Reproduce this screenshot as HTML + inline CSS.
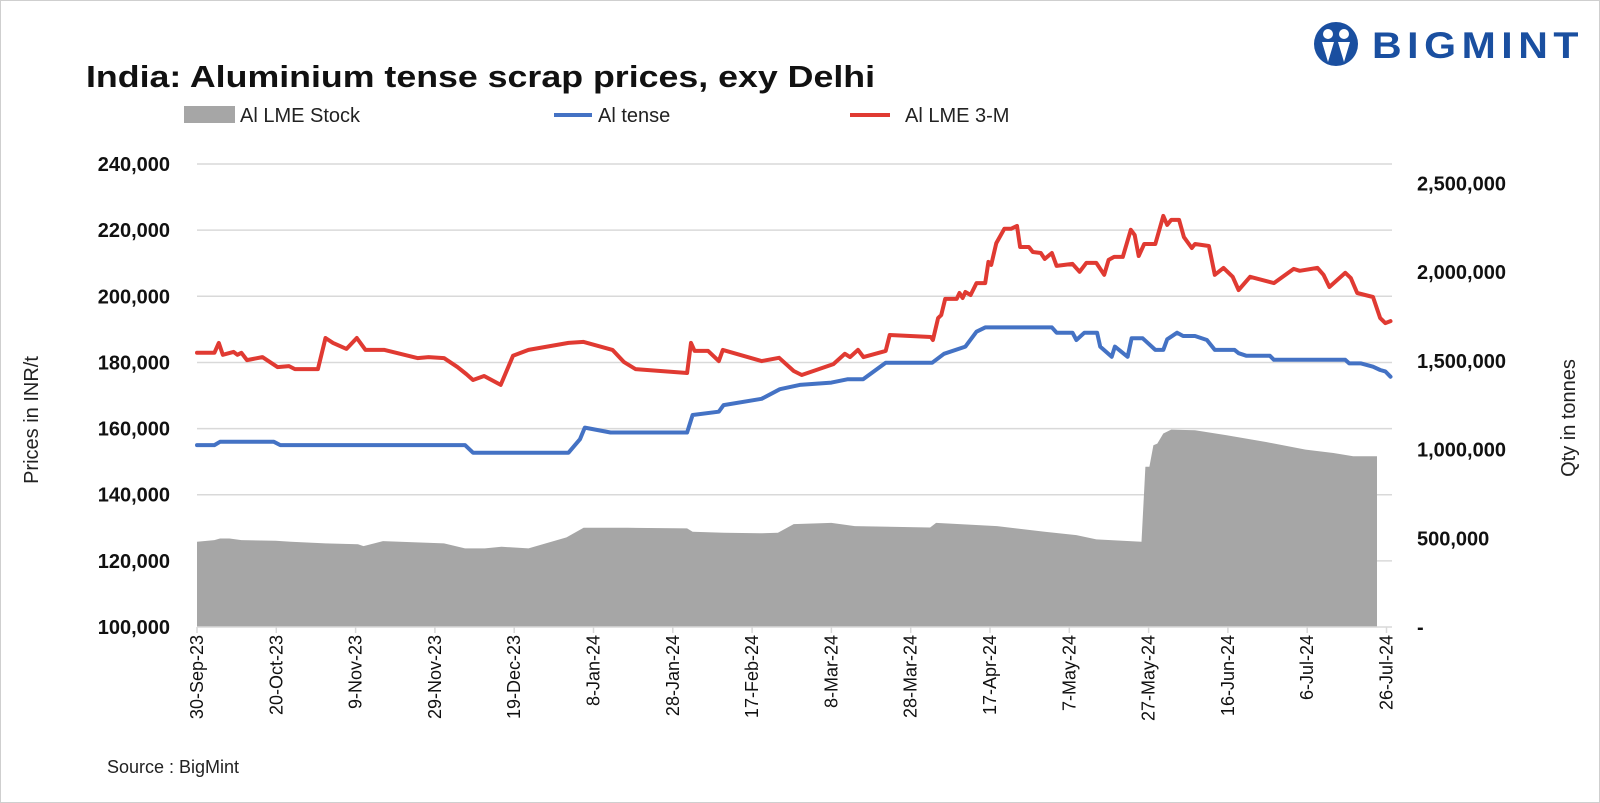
<!DOCTYPE html>
<html><head><meta charset="utf-8"><style>
html,body{margin:0;padding:0;background:#fff;}
body{width:1600px;height:803px;overflow:hidden;}
svg{display:block;font-family:"Liberation Sans",Arial,sans-serif;}
</style></head><body>
<svg id="chart" width="1600" height="803" viewBox="0 0 1600 803">
<rect x="0.5" y="0.5" width="1599" height="802" fill="#fff" stroke="#cfcfcf"/>
<text x="86" y="87" font-size="31" font-weight="bold" fill="#111" textLength="789" lengthAdjust="spacingAndGlyphs">India: Aluminium tense scrap prices, exy Delhi</text>
<g>
<circle cx="1336" cy="44" r="22" fill="#1a4fa0"/>
<circle cx="1328" cy="34" r="5" fill="#fff"/><circle cx="1344" cy="34" r="5" fill="#fff"/>
<path d="M1322 42 L1328 62 L1334 42 Z M1338 42 L1344 62 L1350 42 Z" fill="#fff"/>
<text x="1372" y="58" font-size="37" font-weight="bold" fill="#1a4fa0" letter-spacing="5" textLength="212" lengthAdjust="spacingAndGlyphs">BIGMINT</text>
</g>
<g>
<g><rect x="184" y="106" width="51" height="17" fill="#a6a6a6"/><text x="240" y="122" font-size="20" fill="#222">Al LME Stock</text></g>
<g><line x1="554" y1="115" x2="592" y2="115" stroke="#4472c4" stroke-width="4"/><text x="598" y="122" font-size="20" fill="#222">Al tense</text></g>
<g><line x1="850" y1="115" x2="890" y2="115" stroke="#e03a32" stroke-width="4"/><text x="905" y="122" font-size="20" fill="#222">Al LME 3-M</text></g>
</g>
<g id="grid"></g>
<g id="area"></g>
<g id="lines"></g>
<g id="axes"></g>
<text transform="translate(38,420) rotate(-90)" text-anchor="middle" font-size="20" fill="#222">Prices in INR/t</text>
<text transform="translate(1575,418) rotate(-90)" text-anchor="middle" font-size="20" fill="#222">Qty in tonnes</text>
<text x="107" y="773" font-size="18" fill="#222">Source : BigMint</text>
</svg>
<script>
const xTickLabels=["30-Sep-23","20-Oct-23","9-Nov-23","29-Nov-23","19-Dec-23","8-Jan-24","28-Jan-24","17-Feb-24","8-Mar-24","28-Mar-24","17-Apr-24","7-May-24","27-May-24","16-Jun-24","6-Jul-24","26-Jul-24"];
const leftTicks=[100000,120000,140000,160000,180000,200000,220000,240000];
const rightTicks=[0,500000,1000000,1500000,2000000,2500000];
const lmeDays=[0,4.4,5.5,6.5,9.2,10.2,11.2,12.6,16.5,20.3,23.2,24.7,30.5,32.4,34.3,37.7,40.3,42.5,47.3,55.6,58.4,62.3,65.7,67.9,69.6,72.4,76.6,79.7,83.6,93.7,97.5,104.8,107.7,110.6,123.6,124.6,125.5,128.9,131.6,132.6,142.4,146.8,150.5,152.5,160.5,163.4,164.7,166.7,168.1,173.7,174.7,185.1,185.6,186.9,187.7,188.7,191.6,192.3,193.1,193.8,195.1,196.6,198.8,199.6,200.3,201.6,203.6,205.3,206.8,207.6,209.8,210.8,212.8,213.8,215.6,216.8,220.8,222.6,224.3,226.8,228.8,229.9,231.3,233.5,235.5,236.5,237.5,238.9,241.7,243.7,244.7,245.7,247.7,248.9,250.9,251.7,255.2,256.7,258.9,261.2,262.7,265.6,271.6,276.6,278.1,282.6,284.1,285.6,289.6,291,292.6,296.6,298.4,299.7,301];
const lmeValues=[182900,182900,185900,182300,183200,182300,182900,180700,181600,178600,178900,178000,178000,187400,185900,184100,187400,183800,183800,181300,181600,181300,178600,176500,174700,175900,173200,182000,183800,185900,186200,183800,180100,178000,176800,185900,183500,183500,180400,183800,180400,181400,177400,176200,179500,182600,181600,183800,181600,183500,188300,187700,186800,193400,194300,199200,199200,201000,199500,201300,200400,204000,204000,210400,209500,216100,220400,220400,221300,214900,214900,213400,213100,211300,213100,209200,209800,207400,210100,210100,206500,211000,211900,211900,220100,218500,212200,215800,215800,224300,221600,223100,223100,217900,214600,215800,215200,206500,208600,205900,201900,205900,204000,208300,207700,208600,206500,202800,207100,205500,201000,199800,193400,191900,192500];
const tenseDays=[0,4.4,5.8,19.4,21,67.6,69.6,93.7,96.6,97.8,104.3,123.6,125,131.6,132.8,142.4,147,152,160,164,168,173.7,185.4,188.4,193.8,196.6,198.8,215.6,216.8,220.8,221.8,223.8,227,227.8,230.7,231.5,234.7,235.7,238.5,241.7,243.7,244.7,247.2,248.7,251.7,254.7,256.7,261.7,262.7,264.7,270.6,271.6,289.6,290.6,293.6,296.6,298.4,299.7,301];
const tenseValues=[155000,155000,156000,156000,155000,155000,152700,152700,156800,160300,158800,158800,164100,165100,167100,169000,171900,173200,173900,174900,174900,179900,179900,182600,184800,189300,190600,190600,189000,189000,186800,189000,189000,184800,181700,184800,181700,187300,187300,183800,183800,187000,189000,188000,188000,186800,183800,183800,182800,182000,182000,180800,180800,179700,179700,178700,177700,177300,175700];
const stockDays=[0,4.4,5.8,8.2,11.2,19.8,23.7,32.4,40.6,42,46.9,62.3,67.6,72.6,76.8,83.6,93.2,97.5,108.7,123.6,125,132.9,142,146.5,150.5,160,165.9,184.9,186.4,201.8,213.8,221.8,226.8,238.2,239.2,240.2,241.2,242.2,243.7,245.7,251.7,259.7,269.6,279.6,286.6,291.6,294.6,297.6];
const stockValues=[480000,490000,499000,499000,490000,486000,480000,471000,466000,456000,484000,471000,443000,443000,452000,443000,505000,559000,559000,556000,537000,531000,528000,531000,580000,587000,569000,561000,587000,569000,537000,518000,494000,480000,903000,903000,1025000,1034000,1091000,1113000,1109000,1081000,1043000,1000000,981000,963000,963000,963000];

const NS="http://www.w3.org/2000/svg";
const X0=197, PXDAY=3.965, BOT=627;
function xS(d){return X0+d*PXDAY;}
function yL(v){return BOT-(v-100000)/20000*66.14;}
function yR(v){return BOT-v/500000*88.7;}
function mk(tag,attrs,parent){const e=document.createElementNS(NS,tag);for(const k in attrs)e.setAttribute(k,attrs[k]);parent.appendChild(e);return e;}
const fmt=v=>v.toLocaleString('en-US');
const grid=document.getElementById('grid'), axes=document.getElementById('axes');
const XR=1392;
leftTicks.forEach(v=>{
  if(v>100000){const g=mk('line',{x1:X0,x2:XR,y1:yL(v),y2:yL(v),stroke:'#d9d9d9','stroke-width':1.5},grid);
  
  }
  const t=mk('text',{x:170,y:yL(v)+7,'text-anchor':'end','font-size':20,'font-weight':'bold',fill:'#111'},axes);
  t.textContent=fmt(v);
  
  
});
rightTicks.forEach(v=>{
  const t=mk('text',{x:1417,y:yR(v)+7,'font-size':20,'font-weight':'bold',fill:'#111'},axes);
  t.textContent=v===0?'-':fmt(v);
  
  
});
// stock area
let p='M'+xS(stockDays[0])+' '+BOT;
stockDays.forEach((d,i)=>{p+=' L'+xS(d).toFixed(1)+' '+yR(stockValues[i]).toFixed(1);});
p+=' L'+xS(stockDays[stockDays.length-1]).toFixed(1)+' '+BOT+' Z';
const area=mk('path',{d:p,fill:'#a6a6a6'},document.getElementById('area'));


// axis line and ticks
const ax=mk('line',{x1:X0,x2:XR,y1:BOT,y2:BOT,stroke:'#d9d9d9','stroke-width':1.5},axes);


xTickLabels.forEach((lab,i)=>{
  const x=xS(i*20);
  const tk=mk('line',{x1:x,x2:x,y1:BOT,y2:BOT+6,stroke:'#d9d9d9','stroke-width':1.5},axes);
  
  
  const t=mk('text',{transform:'translate('+(x+6)+','+(BOT+8)+') rotate(-90)','text-anchor':'end','font-size':18,fill:'#111'},axes);
  t.textContent=lab;
  
  
});
function line(days,vals,color,name){
  const pts=days.map((d,i)=>xS(d).toFixed(1)+','+yL(vals[i]).toFixed(1)).join(' ');
  const l=mk('polyline',{points:pts,fill:'none',stroke:color,'stroke-width':4,'stroke-linejoin':'round','stroke-linecap':'round'},document.getElementById('lines'));
  
  
}
line(tenseDays,tenseValues,'#4472c4','al-tense-line');
line(lmeDays,lmeValues,'#e03a32','al-lme-3m-line');
</script>
</body></html>
